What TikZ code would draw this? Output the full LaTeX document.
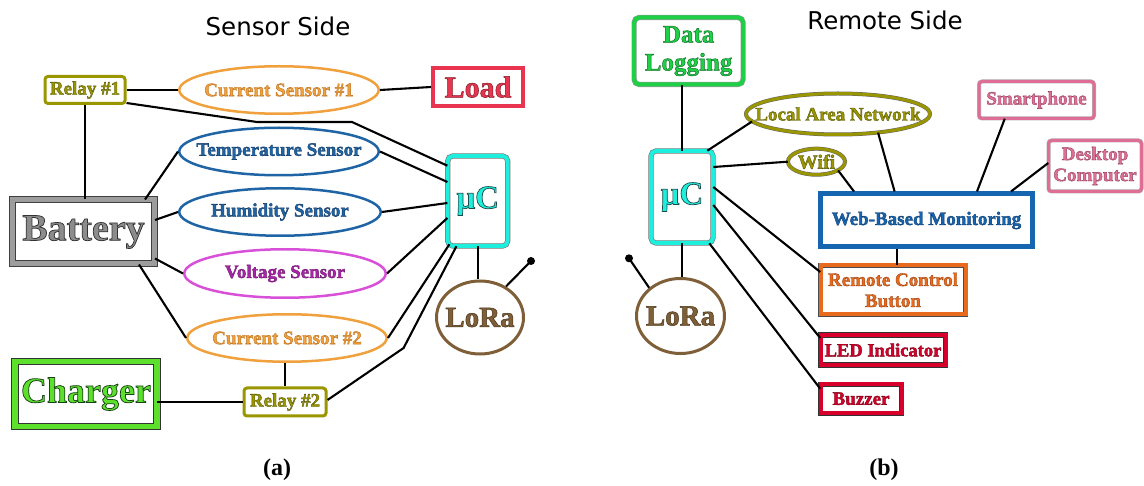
\documentclass[tikz,border=0pt]{standalone}
\usepackage{fontspec}
\setmainfont{Liberation Serif}
\newfontfamily\nf{Liberation Serif}
\newfontfamily\tf{DejaVu Sans}
\newfontfamily\capf{Liberation Serif}
\usetikzlibrary{shapes.geometric,calc}
\definecolor{olv}{RGB}{153,150,0}
\definecolor{orng}{RGB}{240,160,60}
\definecolor{loadred}{RGB}{232,52,78}
\definecolor{sblue}{RGB}{31,101,165}
\definecolor{vmag}{RGB}{216,80,216}
\definecolor{vtext}{RGB}{170,36,170}
\definecolor{batgray}{RGB}{140,140,140}
\definecolor{chg}{RGB}{92,224,44}
\definecolor{mcu}{RGB}{30,238,220}
\definecolor{lora}{RGB}{126,95,56}
\definecolor{dlg}{RGB}{30,208,70}
\definecolor{pnk}{RGB}{222,110,150}
\definecolor{wblue}{RGB}{21,101,176}
\definecolor{rcbo}{RGB}{232,106,30}
\definecolor{ledr}{RGB}{216,0,42}
\newcommand{\fz}[1]{\fontsize{#1}{#1}\selectfont}
\def\olw{0.35}
\def\olc{0.3 0.3 0.3}
\newcommand{\ot}[1]{\special{pdf:literal direct 2 Tr \olw\space w \olc\space RG}#1\special{pdf:literal direct 0 Tr}}
\begin{document}
\begin{tikzpicture}[x=1pt,y=-1pt,
  outl/.code={\def\olc{#1}},
  outw/.code={\def\olw{#1}},
  conn/.style={line width=2.1pt, black},
  nd/.style={inner sep=0pt, align=center, fill=white},
  bx/.style={nd, rectangle},
  el/.style={nd, ellipse},
  relaybox/.style={bx, draw=olv, line width=3pt, rounded corners=3pt, text=olv, outl={0.33 0.32 0}, minimum width=80pt, minimum height=27pt, font=\nf\bfseries\fz{19}},
  sens/.style={el, line width=2.5pt, minimum width=199.5pt, minimum height=47.5pt, font=\nf\bfseries\fz{19}},
  orsens/.style={sens, draw=orng, text=orng, outl={0.72 0.42 0.1}},
  blsens/.style={sens, draw=sblue, text=sblue, outl={0.06 0.2 0.36}},
  dbl/.style={line width=0.6pt, double distance=4pt},
  lorac/.style={el, draw=lora, line width=3pt, text=lora, outl={0.28 0.2 0.1}, outw=0.5, font=\nf\bfseries\fz{29}},
  mcubox/.style={bx, dbl, draw=black!55, double=mcu, rounded corners=5pt, text=mcu, outw=0.7, outl={0.1 0.3 0.3}, font=\nf\bfseries\fz{33}},
  olvell/.style={el, line width=0.5pt, double distance=3pt, draw=black!60, double=olv, text=olv, outl={0.33 0.32 0}},
  pnkbox/.style={bx, line width=0.5pt, double distance=3pt, draw=black!30, double=pnk, rounded corners=3pt, text=pnk, outl={0.58 0.25 0.36}, font=\nf\bfseries\fz{19}},
  redbox/.style={bx, line width=0.6pt, double distance=4pt, draw=black!80, double=ledr, text=ledr, outl={0.45 0 0.08}},
  antdot/.style={circle, fill=black, inner sep=0pt, minimum size=8pt},
  ttl/.style={inner sep=0pt, font=\tf\fz{24.5}},
  captxt/.style={inner sep=0pt, font=\capf\bfseries\fz{24}}
]
\useasboundingbox (0,0) rectangle (1144,486);

% ---------------- Sensor side ----------------
\node[ttl] (t1) at (278,26) {Sensor Side};
\node[relaybox] (relay1) at (85,90) {\ot{Relay \#1}};
\node[orsens] (cs1) at (279,90) {\makebox[0pt]{\ot{Current Sensor \#1}}};
\node[bx, draw=loadred, line width=4pt, text=loadred, outl={0.5 0.1 0.15}, outw=0.5, minimum width=90pt, minimum height=38pt, font=\nf\bfseries\fz{30}] (load) at (478,87) {\ot{Load}};
\node[blsens] (temp) at (279,151.5) {\makebox[0pt]{\ot{Temperature Sensor}}};
\node[blsens, minimum width=201.5pt] (hum) at (280,212) {\makebox[0pt]{\ot{Humidity Sensor}}};
\node[sens, draw=vmag, text=vtext, outl={0.4 0.08 0.4}, minimum width=201.5pt, minimum height=48.5pt] (volt) at (285,273.5) {\makebox[0pt]{\ot{Voltage Sensor}}};
\node[orsens] (cs2) at (287,338) {\makebox[0pt]{\ot{Current Sensor \#2}}};
\node[bx, draw=black!75, double=batgray!85, line width=1pt, double distance=5pt, text=batgray, outw=0.75, outl={0.2 0.2 0.2}, minimum width=142pt, minimum height=64pt, font=\nf\bfseries\fz{38}] (bat) at (83.5,232) {\ot{Battery}};
\node[bx, draw=black!80, double=chg, line width=0.8pt, double distance=5.5pt, text=chg, outw=0.75, outl={0.1 0.25 0.1}, minimum width=142pt, minimum height=65pt, font=\nf\bfseries\fz{36}] (chgr) at (86,394) {\ot{Charger}};
\node[relaybox, minimum width=82pt, minimum height=28pt] (relay2) at (285,402) {\ot{Relay \#2}};
\node[mcubox, minimum width=60pt, minimum height=90pt] (mcuL) at (477.7,201) {\ot{μC}};
\node[lorac, minimum width=87pt, minimum height=73pt] (loraL) at (480,317.5) {\makebox[0pt]{\ot{LoRa}}};
\node[antdot] (antL) at (531,261) {};
\node[captxt] (capa) at (277,470) {(a)};

\coordinate (b1) at (257,122);
\coordinate (b2) at (352,122);
\coordinate (b3) at (403.6,348);
\draw[conn] (relay1.east) -- (cs1.west);
\draw[conn] (cs1.east) -- (load.west);
\draw[conn] ([yshift=2pt]relay1.south east) -- (b1) -- (b2) -- ([yshift=-10pt]mcuL.north west);
\draw[conn] (relay1.south) -- (relay1.south |- bat.north);
\draw[conn] ([xshift=-10pt]bat.north east) -- (temp.west);
\draw[conn] ([yshift=12pt]bat.east) -- (hum.west);
\draw[conn] ([yshift=6pt]bat.south east) -- (volt.west);
\draw[conn] ([xshift=-16pt]bat.south east) -- (cs2.west);
\draw[conn] (temp.east) -- ([yshift=19pt]mcuL.west);
\draw[conn] (hum.east) -- ([yshift=-2pt]mcuL.west);
\draw[conn] (volt.east) -- ([yshift=-17pt]mcuL.west);
\draw[conn] ([xshift=2pt,yshift=2pt]mcuL.south west) -- (cs2.east);
\draw[conn] ([xshift=9pt]mcuL.south west) -- (b3) -- ([yshift=2pt]relay2.east);
\draw[conn] (mcuL.south) -- (mcuL.south |- loraL.north);
\draw[conn] (loraL.50) -- (antL.center);
\draw[conn] (chgr.east |- relay2.west) -- (relay2.west);
\draw[conn] (relay2.north |- cs2.south) -- (relay2.north);

% ---------------- Remote side ----------------
\node[ttl] (t2) at (885,20) {Remote Side};
\node[bx, dbl, draw=black!40, double=dlg, rounded corners=5pt, text=dlg, outl={0.06 0.42 0.14}, outw=0.45, minimum width=109pt, minimum height=67pt, font=\nf\bfseries\fz{25}, align=center] (data) at (688.6,51) {\ot{Data\\[3pt]Logging}};
\node[mcubox, minimum width=62pt, minimum height=92pt] (mcuR) at (682,197) {\ot{μC}};
\node[olvell, minimum width=184pt, minimum height=41pt, font=\nf\bfseries\fz{19}] (lan) at (838,114) {\makebox[0pt]{\ot{Local Area Network}}};
\node[olvell, minimum width=57pt, minimum height=26pt, font=\nf\bfseries\fz{20}] (wifi) at (816.5,161.7) {\makebox[0pt]{\ot{Wifi}}};
\node[pnkbox, minimum width=115pt, minimum height=37pt] (smart) at (1036.5,100) {\ot{Smartphone}};
\node[pnkbox, minimum width=93pt, minimum height=51pt, align=center] (desk) at (1095,166) {\ot{Desktop\\[2pt]Computer}};
\node[bx, draw=wblue, line width=5pt, text=wblue, outl={0.05 0.22 0.4}, minimum width=212pt, minimum height=53pt, font=\nf\bfseries\fz{19}] (web) at (926.5,220.5) {\ot{Web-Based Monitoring}};
\node[bx, line width=0.5pt, double distance=4pt, draw=black!70, double=rcbo, text=rcbo, outl={0.58 0.24 0.05}, minimum width=145pt, minimum height=49pt, font=\nf\bfseries\fz{19}, align=center] (rcb) at (893,290) {\ot{Remote Control\\[2pt]Button}};
\node[redbox, minimum width=125pt, minimum height=30pt, font=\nf\bfseries\fz{18.5}] (led) at (883,350) {\ot{LED Indicator}};
\node[redbox, minimum width=81pt, minimum height=29pt, font=\nf\bfseries\fz{19}] (buzz) at (861,398.7) {\ot{Buzzer}};
\node[lorac, minimum width=88pt, minimum height=75pt] (loraR) at (680.5,316) {\makebox[0pt]{\ot{LoRa}}};
\node[antdot] (antR) at (629,258.3) {};
\node[captxt] (capb) at (884,470) {(b)};

\draw[conn] (mcuR.north |- data.south) -- (mcuR.north);
\draw[conn] ([xshift=-6pt]mcuR.north east) -- (lan.185);
\draw[conn] ([yshift=30pt]mcuR.east) -- (wifi.west);
\draw[conn] (wifi.-22) -- ([xshift=36pt]web.north west);
\draw[conn] (lan.-25) -- ([xshift=76.6pt]web.north west);
\draw[conn] ([xshift=26pt]smart.south west) -- ([xshift=159pt]web.north west);
\draw[conn] ([yshift=3pt]desk.west) -- ([xshift=193pt]web.north west);
\draw[conn] ([xshift=4pt]rcb.north) -- ([xshift=4pt]rcb.north |- web.south);
\draw[conn] ([yshift=10pt]mcuR.east) -- ([yshift=18pt]rcb.west);
\draw[conn] ([yshift=-8pt]mcuR.east) -- ([yshift=12pt]led.west);
\draw[conn] ([xshift=-4pt]mcuR.south east) -- ([yshift=10pt]buzz.west);
\draw[conn] (mcuR.south) -- (mcuR.south |- loraR.north);
\draw[conn] (loraR.138) -- (antR.center);
\end{tikzpicture}
\end{document}
